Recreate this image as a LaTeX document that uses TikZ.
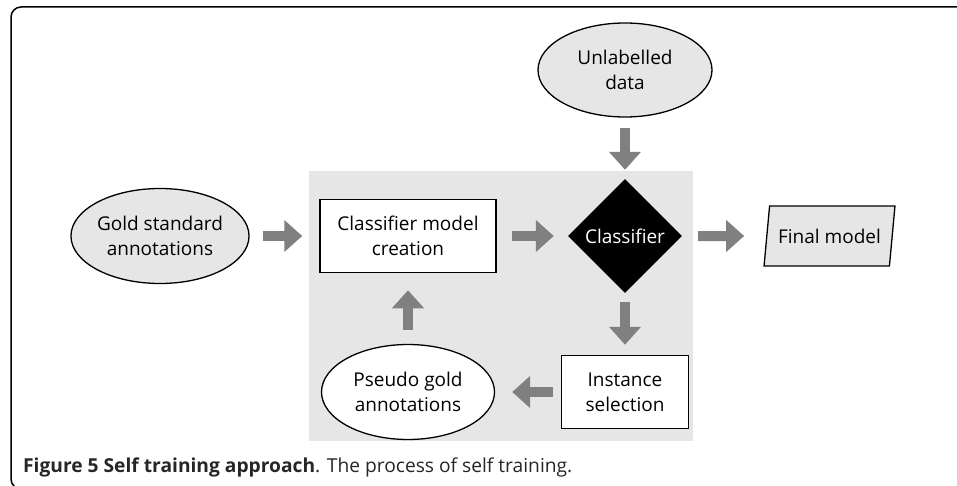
\documentclass[tikz,border=0pt]{standalone}
\usepackage{fontspec}
\setmainfont{Open Sans}[Ligatures=NoCommon]
\newfontfamily\capfont{Open Sans}
\usetikzlibrary{shapes.geometric,arrows.meta}
\definecolor{panelgray}{HTML}{E6E6E6}
\definecolor{arrowgray}{HTML}{808080}
\begin{document}
\begin{tikzpicture}[x=1pt,y=-1pt,
  every node/.style={font=\fontsize{19}{25}\selectfont, align=center, inner sep=0pt},
  dataell/.style={draw, line width=1.3pt, ellipse, minimum width=173pt, minimum height=95pt},
  procbox/.style={draw, line width=1.5pt, fill=white, minimum height=73pt},
  flow/.style={draw=arrowgray, line width=10pt, -{Triangle[width=31pt,length=18pt]}}]

\useasboundingbox (0,0) rectangle (957,486);
\clip (0,0) rectangle (957,486);
\draw[line width=1.5pt, rounded corners=10pt] (11,7) rectangle (975,489);
\fill[panelgray] (309,171) rectangle (693,441);

\node[dataell, fill=panelgray] (gold) at (160,236) {Gold standard\\annotations};
\node[procbox, minimum width=176pt] (create) at (408,236) {Classifier model\\creation};
\node[diamond, fill=black, text=white, minimum width=114pt, minimum height=114pt] (clf) at (625,236) {Classifier};
\node[dataell, fill=panelgray, minimum width=174pt, minimum height=94pt] (unlab) at (625,70) {Unlabelled\\data};
\node[trapezium, trapezium left angle=72, trapezium right angle=108, trapezium stretches=true, draw, line width=1.3pt, fill=panelgray, minimum width=131pt, minimum height=60pt] (final) at (829.5,236) {Final model};
\node[procbox, minimum width=127pt] (select) at (625,392) {Instance\\selection};
\node[dataell, fill=white] (pseudo) at (408,392) {Pseudo gold\\annotations};

\draw[flow, shorten <=13pt, shorten >=17pt] (gold) -- (create);
\draw[flow, shorten <=15pt, shorten >=14pt] (create) -- (clf);
\draw[flow, shorten <=10pt, shorten >=9pt] (unlab) -- (clf);
\draw[flow, shorten <=16pt, shorten >=22pt] (clf) -- (final);
\draw[flow, shorten <=9pt, shorten >=10pt] (clf) -- (select);
\draw[flow, shorten <=8pt, shorten >=17pt] (select) -- (pseudo);
\draw[flow, shorten <=14pt, shorten >=17pt] (pseudo) -- (create);

\node[anchor=base west, font=\capfont\fontsize{19.2}{22}\selectfont, text=black!85] (caption) at (23,472) {\textbf{Figure 5 Self training approach}. The process of self training.};

\end{tikzpicture}
\end{document}
